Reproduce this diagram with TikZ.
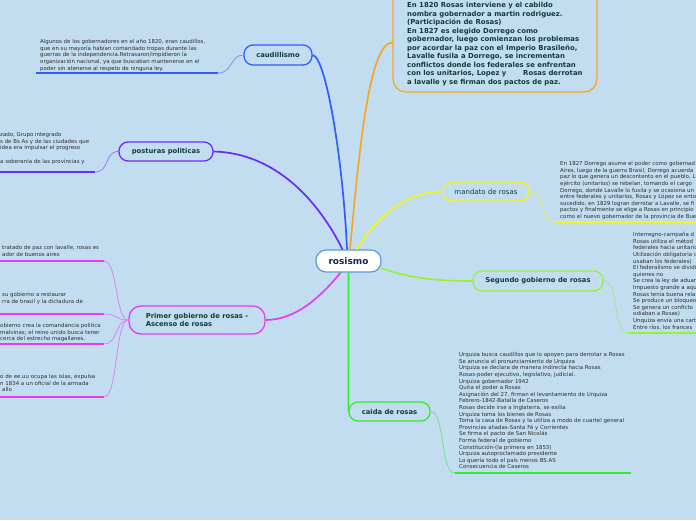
\documentclass[tikz,border=0pt]{standalone}
\usepackage{fontspec}
\setmainfont{DejaVu Sans}
\usetikzlibrary{calc}
\definecolor{bg}{RGB}{195,221,240}
\definecolor{cblue}{RGB}{45,95,255}
\definecolor{corange}{RGB}{245,166,40}
\definecolor{cpurple}{RGB}{105,45,250}
\definecolor{cmag}{RGB}{230,60,245}
\definecolor{cyel}{RGB}{245,245,30}
\definecolor{clime}{RGB}{140,245,60}
\definecolor{cgreen}{RGB}{50,235,50}
\definecolor{ctext}{RGB}{15,60,60}
\definecolor{leaftext}{RGB}{45,45,45}
\definecolor{rootborder}{RGB}{90,155,215}
\definecolor{roottext}{RGB}{25,40,75}
\begin{document}
\begin{tikzpicture}[x=1pt,y=-1pt,
  topic/.style={draw, rounded corners=9pt, line width=1.3pt, fill=bg, text=ctext,
    font=\fontsize{6.8}{8.2}\selectfont\bfseries, inner sep=0pt, align=center},
  leaf/.style={anchor=north west, inner sep=0pt, align=left, text=leaftext,
    font=\fontsize{5.45}{6.6}\selectfont},
  mainedge/.style={line width=1.7pt},
  leafedge/.style={line width=0.8pt},
  uline/.style={line width=1.8pt}]
\useasboundingbox (0,0) rectangle (696,520);
\fill[bg] (0,0) rectangle (696,520);
\clip (0,0) rectangle (696,520);

% ---------- main nodes ----------
\node[topic, draw=rootborder, fill=white, text=roottext, font=\fontsize{9}{10}\selectfont\bfseries,
  minimum width=65pt, minimum height=22pt, rounded corners=10pt, line width=1.2pt] (root) at (348.5,261) {rosismo};
\node[topic, draw=cblue, minimum width=68pt, minimum height=20pt] (caud) at (278,55) {caudillismo};
\node[topic, draw=cpurple, minimum width=94pt, minimum height=19pt] (post) at (166,151.5) {posturas politicas};
\node[topic, draw=cmag, minimum width=136pt, minimum height=28pt, align=left, rounded corners=12pt] (prim) at (197,320)
  {Primer gobierno de rosas -\\Ascenso de rosas};
\node[topic, draw=cyel, minimum width=86pt, minimum height=19pt, font=\fontsize{7}{8}\selectfont] (mand) at (486,191.5) {mandato de rosas};
\node[topic, draw=clime, minimum width=130pt, minimum height=20pt] (seg) at (538,281) {Segundo gobierno de rosas};
\node[topic, draw=cgreen, minimum width=81pt, minimum height=19pt] (caida) at (389.5,411.5) {caida de rosas};
\node[draw=corange, line width=1.3pt, rounded corners=13pt, fill=bg, minimum width=204pt, minimum height=107pt, inner sep=0pt] (topbox) at (495,38.5) {};
\node[anchor=north west, inner sep=0pt, align=left, text=ctext, font=\fontsize{6.9}{8.5}\selectfont\bfseries] (toptext) at (407,2.2)
  {En 1820 Rosas interviene y el cabildo\\
   nombra gobernador a martin rodriguez.\\
   (Participación de Rosas)\\
   En 1827 es elegido Dorrego como\\
   gobernador, luego comienzan los problemas\\
   por acordar la paz con el Imperio Brasileño,\\
   Lavalle fusila a Dorrego, se incrementan\\
   conflictos donde los federales se enfrentan\\
   con los unitarios, Lopez y \hspace{12pt} Rosas derrotan\\
   a lavalle y se firman dos pactos de paz.};

% ---------- main edges ----------
\draw[mainedge, cblue] ($(root.north)+(-1.5,0)$) .. controls (343,160) and (326,57) .. (caud.east);
\draw[mainedge, corange] ($(root.north)+(1.5,0)$) .. controls (360,140) and (370,43) .. ($(topbox.west)+(0,4)$);
\draw[mainedge, cpurple] ($(root.north)+(-6,0)$) .. controls (318,200) and (275,153) .. (post.east);
\draw[mainedge, cyel] ($(root.north)+(8,0)$) .. controls (380,212) and (410,191.5) .. (mand.west);
\draw[mainedge, clime] ($(root.east)+(-1,7)$) .. controls (412,279) and (440,281) .. (seg.west);
\draw[mainedge, cgreen] (root.south) -- (caida.west);
\draw[mainedge, cmag] ($(root.south)+(-8,0)$) .. controls (320,298) and (295,320) .. (prim.east);

% ---------- caudillismo leaf ----------
\node[leaf] (caudtext) at (40,39.3)
  {Algunos de los gobernadores en el año 1820, eran caudillos,\\
   que en su mayoría habían comandado tropas durante las\\
   guerras de la independencia.Retrasaron/impidieron la\\
   organización nacional, ya que buscaban mantenerse en el\\
   poder sin atenerse al respeto de ninguna ley.};
\coordinate (cu1) at (36,73);
\coordinate (cu2) at (218,73);
\draw[uline, cblue] (cu1) -- (cu2);
\draw[leafedge, cblue!55!bg] (cu2) .. controls (233,73) and (230,55) .. (caud.west);

% ---------- posturas leaf ----------
\node[leaf] (posttext) at (0,132.3)
  {zado, Grupo integrado\\
   s de Bs As y de las ciudades que\\
   idea era impulsar el progreso\\
   \mbox{}\\
   a soberanía de las provincias y};
\coordinate (pu1) at (0,172);
\coordinate (pu2) at (95,172);
\draw[uline, cpurple] (pu1) -- (pu2);
\draw[leafedge, cpurple!55!bg] (pu2) .. controls (110,172) and (104,151.5) .. (post.west);

% ---------- primer gobierno leaves ----------
\node[leaf] (pt1) at (2,245.3)
  {tratado de paz con lavalle, rosas es\\
   ador de buenos aires};
\node[leaf] (pt2) at (2,292.3)
  {su gobierno a restaurar\\
   rra de brasil y la dictadura de};
\node[leaf] (pt3) at (0,323.3)
  {obierno crea la comandancia politica\\
   malvinas; el reino unido busca tener\\
   cerca del estrecho magallanes.};
\node[leaf] (pt4) at (0,374.3)
  {o de ee.uu ocupa las islas, expulsa\\
   n 1834 a un oficial de la armada\\
   \hspace{2pt}allo};
\coordinate (m1a) at (0,261);   \coordinate (m1b) at (104,261);
\coordinate (m2a) at (0,314);   \coordinate (m2b) at (104,314);
\coordinate (m3a) at (0,344);   \coordinate (m3b) at (104,344);
\coordinate (m4a) at (0,397);   \coordinate (m4b) at (104,397);
\foreach \a/\b in {m1a/m1b, m2a/m2b, m3a/m3b, m4a/m4b}{
  \draw[uline, cmag] (\a) -- (\b);
  \draw[leafedge, cmag!55!bg] (\b) .. controls +(14,0) and (115,320) .. (prim.west);
}

% ---------- mandato leaf ----------
\node[leaf] (mandtext) at (560,161.3)
  {En 1827 Dorrego asume el poder como gobernad\\
   Aires, luego de la guerra Brasil, Dorrego acuerda\\
   paz lo que genera un descontento en el pueblo, L\\
   ejército (unitarios) se rebelan, tomando el cargo\\
   Dorrego, donde Lavalle lo fusila y se ocasiona un\\
   entre federales y unitarios, Rosas y López se ento\\
   sucedido, en 1829 logran derrotar a Lavalle, se fi\\
   pactos y finalmente se elige a Rosas en principio\\
   como el nuevo gobernador de la provincia de Bue};
\coordinate (yu1) at (555,222);
\coordinate (yu2) at (696,222);
\draw[uline, cyel] (yu1) -- (yu2);
\draw[leafedge, cyel!60!bg] (mand.east) .. controls (545,191.5) and (540,222) .. (yu1);

% ---------- segundo leaf ----------
\node[leaf] (segtext) at (633,232.3)
  {Interregno-campaña d\\
   Rosas utiliza el métod\\
   federales hacia unitario\\
   Utilización obligatoria d\\
   usaban los federales)\\
   El federalismo se dividi\\
   quienes no\\
   Se crea la ley de aduan\\
   Impuesto grande a aqu\\
   Rosas tenía buena rela\\
   Se produce un bloqueo\\
   Se genera un conficto\\
   odiaban a Rosas)\\
   Unquiza envía una cart\\
   Entre ríos, los frances};
\coordinate (su1) at (628,333);
\coordinate (su2) at (696,333);
\draw[uline, clime] (su1) -- (su2);
\draw[leafedge, clime!60!bg] (seg.east) .. controls (620,281) and (612,333) .. (su1);

% ---------- caida leaf ----------
\node[leaf] (caidatext) at (459,352.3)
  {Urquiza busca caudillos que lo apoyen para derrotar a Rosas\\
   Se anuncia el pronunciamiento de Urquiza\\
   Urquiza se declara de manera indirecta hacia Rosas\\
   Rosas-poder ejecutivo, legislativo, judicial.\\
   Urquiza gobernador 1942\\
   Quita el poder a Rosas\\
   Asignación del 27, firman el levantamiento de Urquiza\\
   Febrero-1842-Batalla de Caseros\\
   Rosas decide irse a Inglaterra, se exilia\\
   Urquiza toma los bienes de Rosas\\
   Toma la casa de Rosas y la utiliza a modo de cuartel general\\
   Provincias aliadas-Santa Fé y Corrientes\\
   Se firma el pacto de San Nicolás\\
   Forma federal de gobierno\\
   Constitución-(la primera en 1853)\\
   Urquiza autoproclamado presidente\\
   Lo quería todo el país menos BS.AS\\
   Consecuencia de Caseros};
\coordinate (gu1) at (455,473);
\coordinate (gu2) at (631,473);
\draw[uline, cgreen] (gu1) -- (gu2);
\draw[leafedge, cgreen!60!bg] (caida.east) .. controls (445,411.5) and (440,473) .. (gu1);
\end{tikzpicture}
\end{document}
